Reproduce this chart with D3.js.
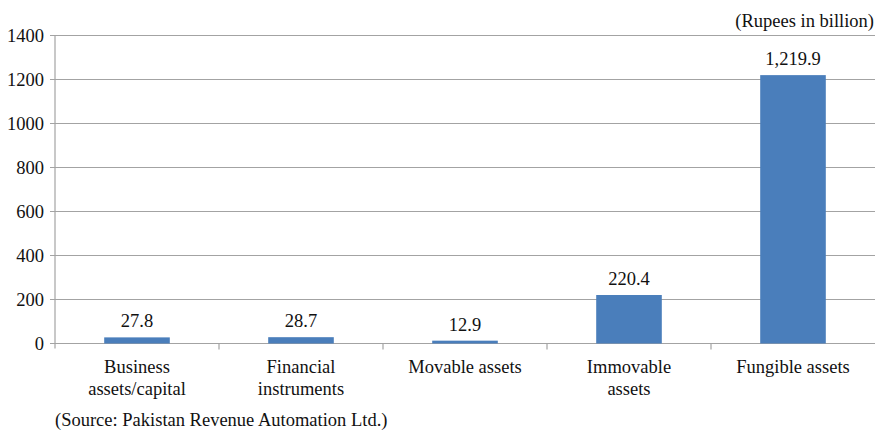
<!DOCTYPE html>
<html><head><meta charset="utf-8">
<script src="https://cdn.jsdelivr.net/npm/d3@7"></script>
<style>body{margin:0;background:#fff}svg{display:block}</style>
</head><body><svg id="c" width="875" height="430"></svg>
<script>
const categories = [["Business","assets/capital"],["Financial","instruments"],["Movable assets"],["Immovable","assets"],["Fungible assets"]];
const values = [27.8, 28.7, 12.9, 220.4, 1219.9];
const valueLabels = ["27.8","28.7","12.9","220.4","1,219.9"];
const yTicks = [0,200,400,600,800,1000,1200,1400];

const svg = d3.select("#c");
const m = {l:55, r:875, t:35.5, b:343.5};
const fs = 18.5;
const font = "'Liberation Serif', 'Times New Roman', 'DejaVu Serif', serif";
const x = d3.scaleBand().domain(d3.range(categories.length)).range([m.l, m.r]).padding(0);
const y = d3.scaleLinear().domain([0,1400]).range([m.b, m.t]);
const grid = "#a3a3a3";

function txt(sel){ return sel.attr("font-family", font).attr("font-size", fs).attr("fill", "#111"); }

svg.append("g").selectAll("line").data(yTicks).join("line")
  .attr("x1", m.l - 5).attr("x2", m.r)
  .attr("y1", d=>y(d)).attr("y2", d=>y(d))
  .attr("stroke", grid).attr("stroke-width", 1.2);
svg.append("line").attr("x1", m.l).attr("x2", m.l).attr("y1", m.t).attr("y2", m.b + 5)
  .attr("stroke", grid).attr("stroke-width", 1.2);
txt(svg.append("g").selectAll("text").data(yTicks).join("text")
  .attr("x", m.l - 11).attr("y", d=>y(d)).attr("dy","0.33em")
  .attr("text-anchor","end")).text(d=>d);
svg.append("g").selectAll("line").data(d3.range(1, categories.length)).join("line")
  .attr("x1", d=>x(d)).attr("x2", d=>x(d)).attr("y1", m.b).attr("y2", m.b + 6)
  .attr("stroke", grid).attr("stroke-width", 1.2);
const bw = x.bandwidth()*0.4;
svg.append("g").selectAll("rect").data(values).join("rect")
  .attr("x", (d,i)=>x(i) + x.bandwidth()/2 - bw/2)
  .attr("width", bw)
  .attr("y", d=>y(d)).attr("height", d=>y(0)-y(d))
  .attr("fill", "#4a7ebb");
txt(svg.append("g").selectAll("text").data(values).join("text")
  .attr("x", (d,i)=>x(i) + x.bandwidth()/2)
  .attr("y", d=>y(d) - 10)
  .attr("text-anchor","middle"))
  .text((d,i)=>valueLabels[i]);
const cg = txt(svg.append("g").selectAll("text").data(categories).join("text")
  .attr("x", (d,i)=>x(i) + x.bandwidth()/2)
  .attr("y", 373).attr("text-anchor","middle"));
cg.selectAll("tspan").data(d=>d).join("tspan")
  .attr("x", function(){return this.parentNode.getAttribute("x");})
  .attr("dy", (d,i)=> i===0 ? 0 : 21.5)
  .text(d=>d);
txt(svg.append("text").attr("x", 874).attr("y", 27).attr("text-anchor","end"))
  .text("(Rupees in billion)");
txt(svg.append("text").attr("x", 55).attr("y", 425.5))
  .text("(Source: Pakistan Revenue Automation Ltd.)");
</script></body></html>
